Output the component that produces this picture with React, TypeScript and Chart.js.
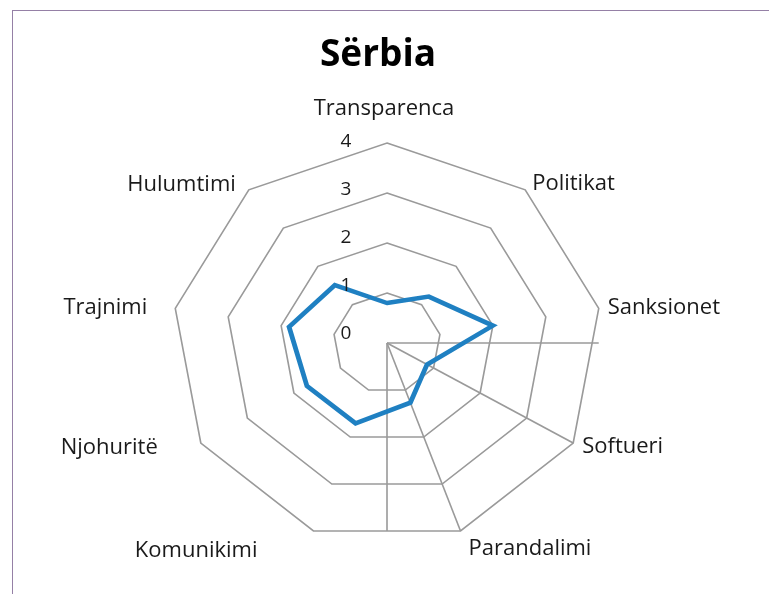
import React, { useEffect, useRef } from "react";
import { Chart, registerables } from "chart.js";

Chart.register(...registerables);

const TITLE = "Sërbia";
const CATEGORIES = [
  "Transparenca",
  "Politikat",
  "Sanksionet",
  "Softueri",
  "Parandalimi",
  "Komunikimi",
  "Njohuritë",
  "Trajnimi",
  "Hulumtimi",
];
const SERBIA_VALUES = [0.8, 1.21, 2.0, 0.86, 1.27, 1.71, 1.72, 1.85, 1.51];
const TICK_MIN = 0;
const TICK_MAX = 4;
const TICK_STEP = 1;

// layout / style (not data)
const W = 769;
const H = 594;
const X_STRETCH = 1.075;
const FONT = "'Open Sans', 'DejaVu Sans', sans-serif";
const GRID_COLOR = "#9a9a9a";
const GRID_WIDTH = 1.5;
const LINE_COLOR = "#1f80c2";
const TEXT_COLOR = "#1a1a1a";
const SPOKES_SHOWN = [3, 4];
// per-label offsets from stretched outer vertex: [dx, dy(baseline), align]
const LABEL_LAYOUT: [number, number, CanvasTextAlign][] = [
  [-3, -28, "center"],
  [7, 0, "left"],
  [9, 6, "left"],
  [9, 10, "left"],
  [8, 24, "left"],
  [-56, 26, "right"],
  [-43, 11, "right"],
  [-28, 6, "right"],
  [-13, 1, "right"],
];

const stretchPlugin = {
  id: "stretchRadar",
  beforeDraw(chart: any) {
    const s = chart.scales.r;
    const ctx = chart.ctx;
    ctx.save();
    ctx.translate(s.xCenter, 0);
    ctx.scale(X_STRETCH, 1);
    ctx.translate(-s.xCenter, 0);
  },
  beforeDatasetsDraw(chart: any) {
    const s = chart.scales.r;
    const ctx = chart.ctx;
    const right = s.getPointPosition(2, s.drawingArea);
    const bottom = s.getPointPosition(4, s.drawingArea);
    ctx.save();
    ctx.strokeStyle = GRID_COLOR;
    ctx.lineWidth = GRID_WIDTH;
    ctx.beginPath();
    ctx.moveTo(s.xCenter, s.yCenter);
    ctx.lineTo(right.x, s.yCenter);
    ctx.moveTo(s.xCenter, s.yCenter);
    ctx.lineTo(s.xCenter, bottom.y);
    ctx.stroke();
    ctx.restore();
  },
  afterDatasetsDraw(chart: any) {
    chart.ctx.restore();
  },
  afterDraw(chart: any) {
    const s = chart.scales.r;
    const ctx = chart.ctx;
    ctx.save();
    // title
    ctx.fillStyle = "#000";
    ctx.font = `bold 37px ${FONT}`;
    ctx.textAlign = "center";
    ctx.textBaseline = "alphabetic";
    ctx.fillText(TITLE, 378, 66);
    // point labels
    ctx.fillStyle = TEXT_COLOR;
    ctx.font = `22px ${FONT}`;
    CATEGORIES.forEach((label, i) => {
      const p = s.getPointPosition(i, s.drawingArea);
      const sx = s.xCenter + (p.x - s.xCenter) * X_STRETCH;
      const [dx, dy, align] = LABEL_LAYOUT[i];
      ctx.textAlign = align;
      ctx.fillText(label, sx + dx, p.y + dy);
    });
    // tick labels
    ctx.font = `19px ${FONT}`;
    ctx.textAlign = "center";
    ctx.textBaseline = "middle";
    s.ticks.forEach((t: any) => {
      const d = s.getDistanceFromCenterForValue(t.value);
      ctx.fillText(String(t.value), s.xCenter - 41, s.yCenter - d * 0.96 - 9);
    });
    ctx.restore();
  },
};

export default function App() {
  const ref = useRef<HTMLCanvasElement>(null);
  useEffect(() => {
    if (!ref.current) return;
    const chart = new Chart(ref.current, {
      type: "radar",
      data: {
        labels: CATEGORIES,
        datasets: [
          {
            label: TITLE,
            data: SERBIA_VALUES,
            borderColor: LINE_COLOR,
            backgroundColor: "rgba(0,0,0,0)",
            borderWidth: 4.5,
            pointRadius: 0,
            pointHoverRadius: 0,
            fill: false,
            tension: 0,
            clip: false,
          } as any,
        ],
      },
      options: {
        responsive: false,
        animation: false,
        devicePixelRatio: 1,
        layout: { padding: { left: 187, right: 182, top: 143, bottom: 51 } },
        plugins: {
          legend: { display: false },
          title: { display: false },
          tooltip: { enabled: false },
        },
        scales: {
          r: {
            min: TICK_MIN,
            max: TICK_MAX,
            ticks: { stepSize: TICK_STEP, display: false },
            pointLabels: { display: false },
            grid: { color: GRID_COLOR, lineWidth: GRID_WIDTH, circular: false },
            angleLines: {
              display: true,
              color: GRID_COLOR,
              lineWidth: (c: any) => (SPOKES_SHOWN.includes(c.index) ? GRID_WIDTH : 0),
            },
          },
        },
      },
      plugins: [stretchPlugin],
    });
    return () => chart.destroy();
  }, []);
  return (
    <div
      style={{
        position: "absolute",
        left: 0,
        top: 0,
        width: W,
        height: H,
        overflow: "hidden",
        background: "#fff",
      }}
    >
      <canvas
        ref={ref}
        width={W}
        height={H}
        style={{ position: "absolute", left: 0, top: 0 }}
      />
      <div
        style={{
          position: "absolute",
          left: 12,
          top: 10,
          width: 900,
          height: 900,
          border: "1.5px solid #9580a6",
          pointerEvents: "none",
        }}
      />
    </div>
  );
}
